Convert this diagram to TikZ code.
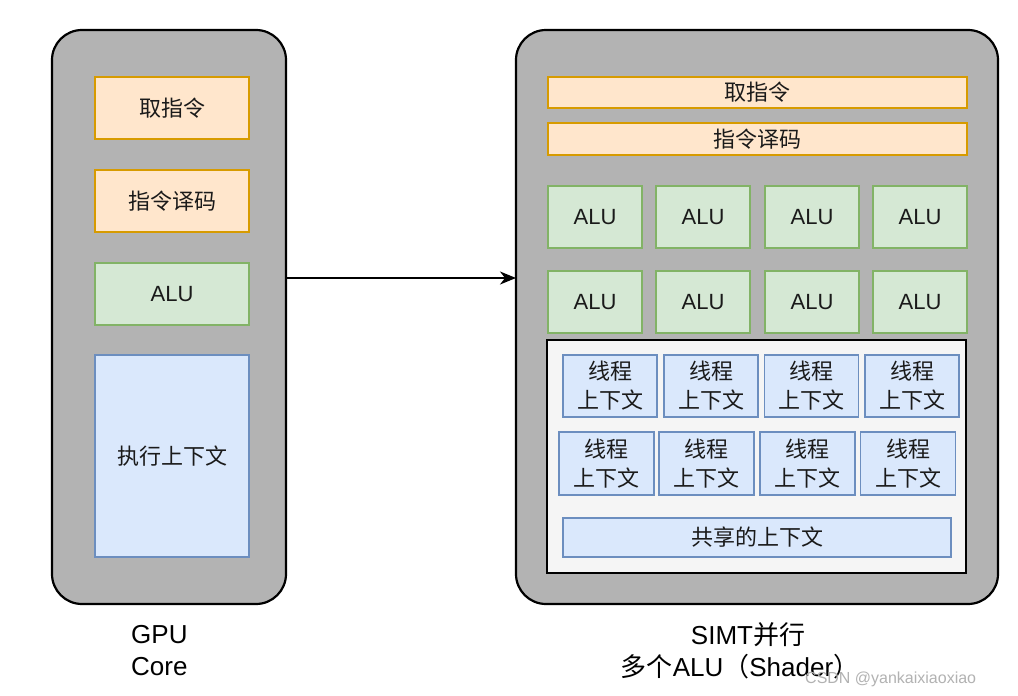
\documentclass[tikz,border=0pt]{standalone}
\usepackage{fontspec}
\setmainfont{Noto Sans CJK SC}
\newfontfamily\labelfont{Liberation Sans}
\usetikzlibrary{arrows.meta}
\definecolor{ofill}{HTML}{FFE6CC}
\definecolor{odraw}{HTML}{D79B00}
\definecolor{gfill}{HTML}{D5E8D4}
\definecolor{gdraw}{HTML}{82B366}
\definecolor{bfill}{HTML}{DAE8FC}
\definecolor{bdraw}{HTML}{6C8EBF}
\definecolor{cfill}{HTML}{B3B3B3}
\definecolor{wfill}{HTML}{F5F5F5}
\definecolor{txt}{HTML}{1A1A1A}
\begin{document}
\begin{tikzpicture}[x=1pt,y=-1pt,
  base/.style={inner sep=0pt,outer sep=0pt,text=txt,font=\fontsize{22}{29}\selectfont,align=center},
  container/.style={base,draw=black,line width=2.2pt,fill=cfill,rounded corners=30pt},
  obox/.style={base,draw=odraw,fill=ofill,line width=1.6pt},
  gbox/.style={base,draw=gdraw,fill=gfill,line width=1.6pt,font=\labelfont\fontsize{22}{29}\selectfont},
  bbox/.style={base,draw=bdraw,fill=bfill,line width=1.6pt},
  wbox/.style={base,draw=black,fill=wfill,line width=2pt},
  caption/.style={inner sep=0pt,text=black,font=\fontsize{26}{32}\selectfont},
  arrow/.style={line width=1.8pt,-{Stealth[length=16pt,width=13pt,inset=5pt]}}
]
\useasboundingbox (0,0) rectangle (1018,696);
\fill[white] (0,0) rectangle (1018,696);

% left container
\node[container,minimum width=234pt,minimum height=574pt] (gpu) at (169,317) {};
\node[obox,minimum width=154pt,minimum height=62pt] (lf) at (172,108) {取指令};
\node[obox,minimum width=154pt,minimum height=62pt] (ld) at (172,201) {指令译码};
\node[gbox,minimum width=154pt,minimum height=62pt] (la) at (172,294) {ALU};
\node[bbox,minimum width=154pt,minimum height=202pt] (lc) at (172,456) {执行上下文};

% right container
\node[container,minimum width=482pt,minimum height=574pt] (simt) at (757,317) {};
\node[obox,minimum width=419pt,minimum height=31pt] (rf) at (757.5,92.5) {取指令};
\node[obox,minimum width=419pt,minimum height=32pt] (rd) at (757.5,139) {指令译码};

\foreach \x [count=\i] in {595,703,812,920}{
  \node[gbox,minimum width=94pt,minimum height=62pt] (a1\i) at (\x,217) {ALU};
  \node[gbox,minimum width=94pt,minimum height=62pt] (a2\i) at (\x,302) {ALU};
}

\node[wbox,minimum width=419pt,minimum height=233pt] (ctx) at (756.5,456.5) {};
\foreach \x [count=\i] in {610,711,811.5,912}{
  \node[bbox,minimum width=94pt,minimum height=62pt] (t1\i) at (\x,386) {线程\\上下文};
}
\foreach \x [count=\i] in {606.5,706.5,807.5,908}{
  \node[bbox,minimum width=95pt,minimum height=63pt] (t2\i) at (\x,463.5) {线程\\上下文};
}
\node[bbox,minimum width=388pt,minimum height=39pt] (sh) at (757,537.5) {共享的上下文};

% arrow
\draw[arrow] ([yshift=39pt]gpu.east) -- ([yshift=39pt]simt.west);

% captions
\node[caption,anchor=west] (c1) at (131,635) {\labelfont GPU};
\node[caption,anchor=west] (c2) at (131,667) {\labelfont Core};
\node[caption] (c3) at (748,635) {{\labelfont SIMT}并行};
\node[caption] (c4) at (740,667) {多个{\labelfont ALU}（{\labelfont Shader}）};
\node[inner sep=0pt,anchor=west,text=gray!60,font=\labelfont\fontsize{16}{18}\selectfont] (wm) at (805,679) {CSDN @yankaixiaoxiao};
\end{tikzpicture}
\end{document}
